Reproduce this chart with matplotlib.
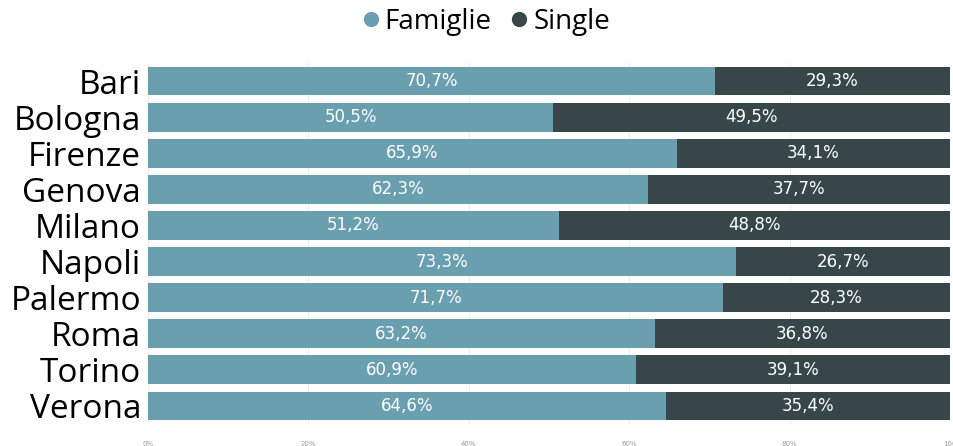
import matplotlib.pyplot as plt
import numpy as np

cities = ['Bari', 'Bologna', 'Firenze', 'Genova', 'Milano', 'Napoli',
          'Palermo', 'Roma', 'Torino', 'Verona']
famiglie = [70.7, 50.5, 65.9, 62.3, 51.2, 73.3, 71.7, 63.2, 60.9, 64.6]
single = [29.3, 49.5, 34.1, 37.7, 48.8, 26.7, 28.3, 36.8, 39.1, 35.4]
tick_labels = ['0%', '20%', '40%', '60%', '80%', '100']

col_fam = '#6a9fb0'
col_sing = '#374649'

fig = plt.figure(figsize=(9.54, 4.46), dpi=100)
ax = fig.add_axes([148 / 954, 1 - 424 / 446, 802 / 954, 361 / 446])

y = np.arange(len(cities))
ax.barh(y, famiglie, height=0.8, color=col_fam, zorder=2)
ax.barh(y, single, left=famiglie, height=0.8, color=col_sing, zorder=2)

lab_font = dict(family='DejaVu Sans', fontsize=12,
                color='white', ha='center', va='center')
for i in range(len(cities)):
    ax.text(famiglie[i] / 2, i, f'{famiglie[i]:.1f}%'.replace('.', ','), **lab_font)
    ax.text(famiglie[i] + single[i] / 2, i, f'{single[i]:.1f}%'.replace('.', ','), **lab_font)

ax.set_ylim(len(cities) - 0.5, -0.5)
ax.set_xlim(0, 100)
ax.set_yticks(y)
ax.set_yticklabels(cities, fontsize=24, family='Open Sans')
ax.set_xticks([0, 20, 40, 60, 80, 100])
ax.set_xticklabels(tick_labels, fontsize=5, color='#999999')
ax.tick_params(axis='both', length=0)
ax.tick_params(axis='y', pad=5)
ax.tick_params(axis='x', pad=12)
ax.grid(axis='x', color='#eeeeee', linewidth=0.8, zorder=0)
for s in ax.spines.values():
    s.set_visible(False)

handles = [plt.Line2D([], [], marker='o', linestyle='', color=col_fam, markersize=10),
           plt.Line2D([], [], marker='o', linestyle='', color=col_sing, markersize=10)]
fig.legend(handles, ['Famiglie', 'Single'], loc='center', bbox_to_anchor=(482 / 954, 1 - 22 / 446),
           ncol=2, frameon=False, prop={'family': 'Open Sans', 'size': 20},
           handletextpad=-0.1, columnspacing=0.4, handlelength=1.2)

fig.savefig('out.png', dpi=100)
